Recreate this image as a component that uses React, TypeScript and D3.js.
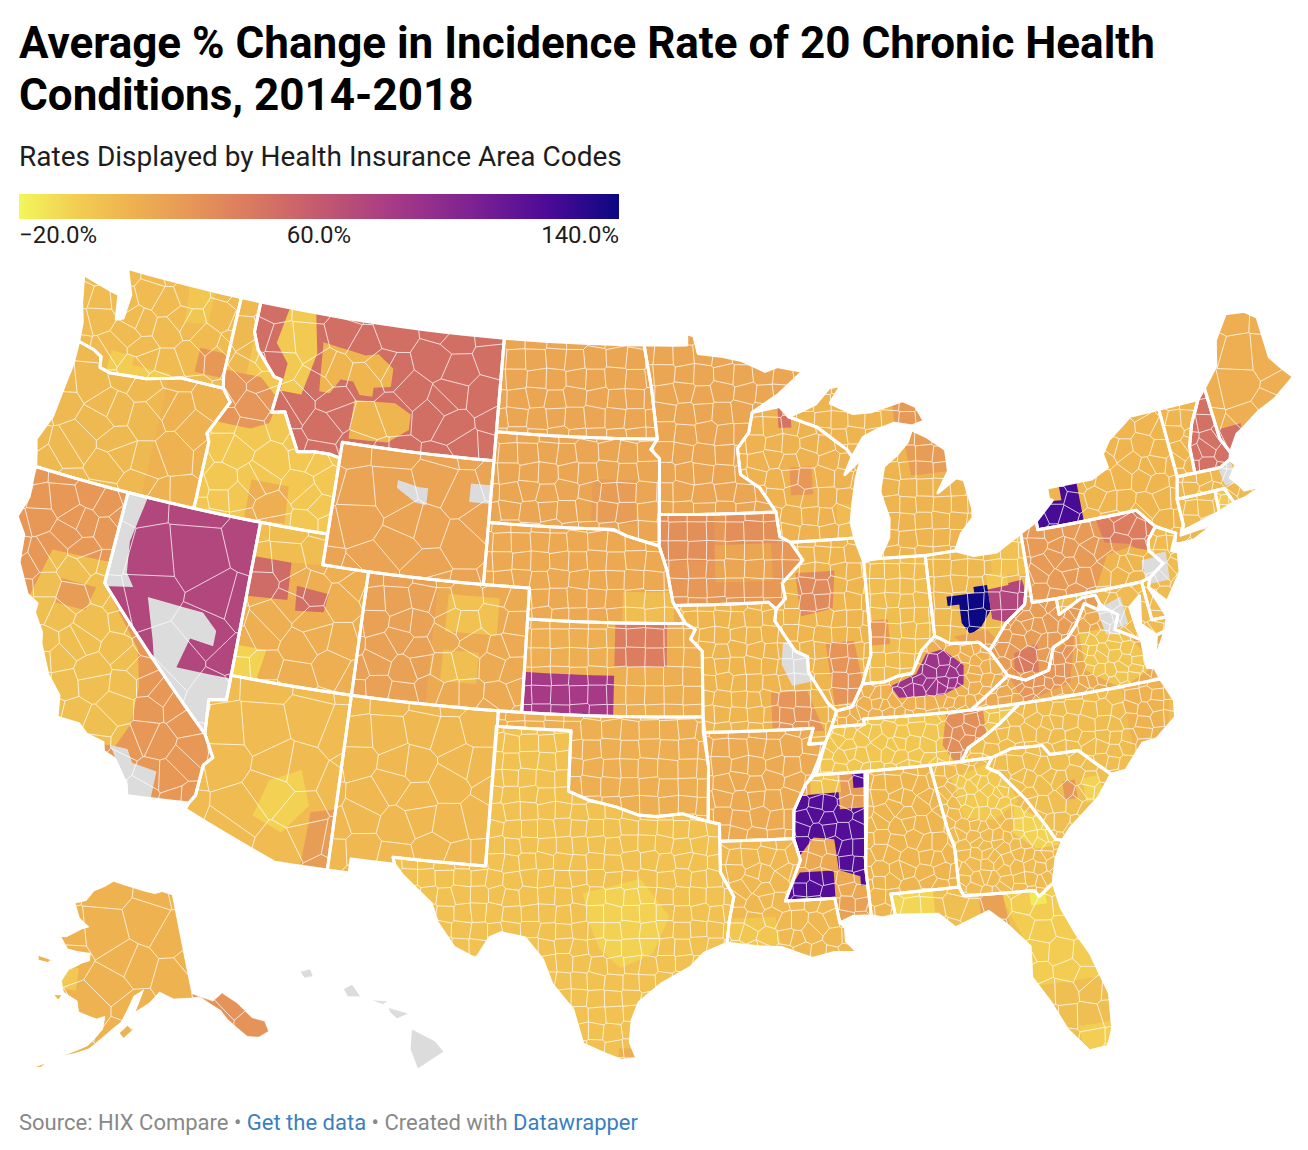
import * as d3 from 'd3';

type Pt = [number, number];

const WIDTH = 1308;
const HEIGHT = 1150;
const NO_DATA = '#dcdcdc';

// legend
const legendTicks = ['−20.0%', '60.0%', '140.0%'];
const colorDomain = [-20, -5, 10, 25, 40, 60, 80, 100, 120, 140];
const colorRange = ['#f1f75c', '#f3ce52', '#eeb250', '#e79857', '#dc7d5f', '#c45a6f', '#a63a86', '#7f2392', '#4f0b97', '#0c0782'];

// state outlines in lon/lat, estimated
const stateRings: Record<string, Pt[][]> = {
  WA: [[[-124.7, 48.4], [-123.2, 48.15], [-122.8, 48.1], [-122.6, 47.3], [-122.3, 47.4], [-122.25, 48.2], [-122.75, 49], [-117.03, 49], [-117.04, 46.42], [-116.92, 45.99], [-118.98, 46], [-119.3, 45.93], [-120.5, 45.7], [-121.2, 45.65], [-122.2, 45.57], [-122.7, 45.65], [-122.8, 46], [-123.2, 46.15], [-124, 46.27], [-124.1, 46.9], [-124.4, 47.5]]],
  OR: [[[-124, 46.27], [-123.2, 46.15], [-122.8, 46], [-122.7, 45.65], [-122.2, 45.57], [-121.2, 45.65], [-120.5, 45.7], [-119.3, 45.93], [-118.98, 46], [-116.92, 45.99], [-116.47, 45.6], [-116.85, 45], [-117.2, 44.45], [-117.03, 44.2], [-117.03, 42], [-124.21, 42], [-124.4, 42.5], [-124.55, 42.85], [-124.15, 43.7], [-124.05, 44.7], [-123.95, 45.5]]],
  CA: [[[-124.21, 42], [-120, 42], [-120, 39], [-114.63, 35], [-114.14, 34.3], [-114.45, 34], [-114.52, 33], [-114.72, 32.72], [-117.12, 32.53], [-117.25, 32.9], [-117.9, 33.6], [-118.4, 33.75], [-118.5, 34.03], [-119.2, 34.15], [-119.6, 34.42], [-120.5, 34.45], [-120.65, 35.15], [-121.3, 35.7], [-121.9, 36.6], [-122, 36.95], [-122.5, 37.5], [-122.5, 37.8], [-123, 38], [-123.7, 38.9], [-123.85, 39.8], [-124.35, 40.3], [-124.1, 41], [-124.2, 41.75]]],
  NV: [[[-120, 42], [-114.04, 42], [-114.04, 36.2], [-114.74, 36.1], [-114.63, 35], [-120, 39]]],
  ID: [[[-117.03, 49], [-116.05, 49], [-116.05, 48], [-115.7, 47.45], [-114.7, 46.7], [-114.35, 46.65], [-114.5, 45.55], [-113.9, 45.65], [-113.45, 45.05], [-113, 44.45], [-112.3, 44.55], [-111.5, 44.55], [-111.05, 44.48], [-111.05, 42], [-117.03, 42], [-117.03, 44.2], [-117.2, 44.45], [-116.85, 45], [-116.47, 45.6], [-116.92, 45.99], [-117.04, 46.42]]],
  MT: [[[-116.05, 49], [-104.05, 49], [-104.05, 45], [-111.05, 45], [-111.05, 44.48], [-111.5, 44.55], [-112.3, 44.55], [-113, 44.45], [-113.45, 45.05], [-113.9, 45.65], [-114.5, 45.55], [-114.35, 46.65], [-114.7, 46.7], [-115.7, 47.45], [-116.05, 48]]],
  WY: [[[-111.05, 45], [-104.05, 45], [-104.05, 41], [-111.05, 41]]],
  UT: [[[-114.04, 42], [-111.05, 42], [-111.05, 41], [-109.05, 41], [-109.05, 37], [-114.04, 37]]],
  CO: [[[-109.05, 41], [-102.05, 41], [-102.05, 37], [-109.05, 37]]],
  AZ: [[[-114.04, 37], [-109.05, 37], [-109.05, 31.33], [-111.07, 31.33], [-114.81, 32.5], [-114.72, 32.72], [-114.52, 33], [-114.45, 34], [-114.14, 34.3], [-114.63, 35], [-114.74, 36.1], [-114.04, 36.2]]],
  NM: [[[-109.05, 37], [-103, 37], [-103.06, 32], [-106.62, 32], [-106.53, 31.78], [-108.21, 31.78], [-108.21, 31.33], [-109.05, 31.33]]],
  ND: [[[-104.05, 49], [-97.23, 49], [-96.85, 47.6], [-96.56, 45.94], [-104.05, 45.94]]],
  SD: [[[-104.05, 45.94], [-96.56, 45.94], [-96.85, 45.6], [-96.45, 45.3], [-96.45, 43.5], [-96.45, 42.49], [-97.9, 42.8], [-98.5, 43], [-104.05, 43]]],
  NE: [[[-104.05, 43], [-98.5, 43], [-97.9, 42.8], [-96.45, 42.49], [-96.1, 41.7], [-95.85, 40.7], [-95.31, 40], [-102.05, 40], [-102.05, 41], [-104.05, 41]]],
  KS: [[[-102.05, 40], [-95.31, 40], [-94.9, 39.8], [-95.1, 39.5], [-94.61, 39.1], [-94.62, 37], [-102.04, 37]]],
  OK: [[[-103, 37], [-94.62, 37], [-94.43, 35.4], [-94.48, 33.64], [-95.5, 33.9], [-96.5, 33.8], [-97.2, 33.85], [-98.1, 34.1], [-99.2, 34.3], [-100, 34.56], [-100, 36.5], [-103, 36.5]]],
  TX: [[[-106.62, 32], [-103.06, 32], [-103.04, 36.5], [-100, 36.5], [-100, 34.56], [-99.2, 34.3], [-98.1, 34.1], [-97.2, 33.85], [-96.5, 33.8], [-95.5, 33.9], [-94.48, 33.64], [-94.04, 33.55], [-94.04, 32], [-93.55, 31.2], [-93.75, 30.4], [-93.85, 29.7], [-94.7, 29.4], [-95.2, 28.95], [-96.3, 28.4], [-97.1, 27.8], [-97.35, 27.2], [-97.4, 26.5], [-97.15, 25.96], [-97.7, 25.9], [-98.3, 26.1], [-99.1, 26.4], [-99.5, 27.5], [-100.3, 28.3], [-100.7, 29.1], [-101.4, 29.77], [-102.3, 29.88], [-102.7, 29.7], [-103.15, 28.98], [-104, 29.3], [-104.7, 30.05], [-105, 30.65], [-106.2, 31.47], [-106.53, 31.78]]],
  MN: [[[-97.23, 49], [-95.15, 49], [-95.15, 49.38], [-94.8, 49.3], [-94.6, 48.72], [-93.4, 48.6], [-92.5, 48.45], [-91.4, 48.07], [-90.8, 48.2], [-89.6, 48], [-90.8, 47.3], [-92.1, 46.75], [-92.3, 46.1], [-92.85, 45.6], [-92.75, 44.75], [-91.9, 44.3], [-91.22, 43.5], [-96.45, 43.5], [-96.45, 45.3], [-96.85, 45.6], [-96.56, 45.94], [-96.85, 47.6]]],
  IA: [[[-96.45, 43.5], [-91.22, 43.5], [-91.1, 42.7], [-90.65, 42.5], [-90.15, 41.9], [-91.1, 41.2], [-91, 40.7], [-91.42, 40.38], [-91.73, 40.61], [-95.77, 40.58], [-95.85, 40.7], [-96.1, 41.7], [-96.45, 42.49]]],
  MO: [[[-95.77, 40.58], [-91.73, 40.61], [-91.42, 40.38], [-91.5, 40], [-90.7, 39], [-90.2, 38.8], [-90.2, 38.3], [-89.5, 37.3], [-89.15, 37], [-89.4, 36.5], [-89.7, 36], [-90.37, 36], [-90.15, 36.5], [-94.62, 36.5], [-94.62, 39.1], [-95.1, 39.5], [-94.9, 39.8], [-95.31, 40]]],
  AR: [[[-94.62, 36.5], [-90.15, 36.5], [-90.37, 36], [-89.7, 36], [-90.1, 35.1], [-90.6, 34.7], [-91.1, 33.9], [-91.17, 33], [-94.04, 33], [-94.04, 33.55], [-94.48, 33.64], [-94.43, 35.4]]],
  LA: [[[-94.04, 33], [-91.17, 33], [-90.95, 32.3], [-91.6, 31], [-89.73, 31], [-89.6, 30.2], [-89.4, 30.05], [-89.4, 29.6], [-89, 29.2], [-89.9, 29.25], [-90.7, 29.1], [-91.8, 29.5], [-92.6, 29.55], [-93.85, 29.7], [-93.75, 30.4], [-93.55, 31.2], [-94.04, 32]]],
  MS: [[[-90.3, 35], [-88.2, 35], [-88.1, 34.9], [-88.47, 31.9], [-88.4, 30.35], [-89.1, 30.37], [-89.6, 30.2], [-89.73, 31], [-91.6, 31], [-90.95, 32.3], [-91.17, 33], [-91.1, 33.9], [-90.6, 34.7]]],
  AL: [[[-88.2, 35], [-85.6, 35], [-85.18, 32.87], [-85, 32.3], [-85, 31], [-87.6, 31], [-87.5, 30.3], [-88, 30.25], [-88.4, 30.35], [-88.47, 31.9]]],
  GA: [[[-85.6, 35], [-83.1, 35], [-83.35, 34.7], [-82.9, 34.47], [-82, 33.5], [-81.4, 32.6], [-81.1, 32.1], [-80.85, 32.03], [-81.2, 31.5], [-81.45, 30.72], [-82.05, 30.36], [-82.2, 30.57], [-84.86, 30.7], [-85, 31], [-85, 32.3], [-85.18, 32.87]]],
  FL: [[[-87.6, 31], [-85, 31], [-84.86, 30.7], [-82.2, 30.57], [-82.05, 30.36], [-81.45, 30.72], [-81.3, 29.9], [-80.9, 29], [-80.5, 28.3], [-80.05, 26.9], [-80.15, 25.75], [-80.4, 25.2], [-81.1, 25.15], [-81.75, 25.95], [-82.2, 26.9], [-82.75, 27.8], [-82.65, 28.8], [-83.4, 29.6], [-84, 30.1], [-85.3, 29.7], [-85.9, 30.2], [-87.5, 30.3]]],
  SC: [[[-83.35, 34.7], [-83.1, 35], [-82.3, 35.2], [-81.05, 35.15], [-80.8, 34.82], [-79.67, 34.8], [-78.55, 33.86], [-79.2, 33.2], [-80.45, 32.4], [-80.85, 32.03], [-81.1, 32.1], [-81.4, 32.6], [-82, 33.5], [-82.9, 34.47]]],
  NC: [[[-84.32, 35], [-84, 35.4], [-83.2, 35.75], [-82.6, 36.05], [-81.68, 36.59], [-75.87, 36.55], [-75.5, 35.8], [-75.6, 35.25], [-76.5, 34.7], [-77.1, 34.65], [-77.95, 33.9], [-78.55, 33.86], [-79.67, 34.8], [-80.8, 34.82], [-81.05, 35.15], [-82.3, 35.2], [-83.1, 35]]],
  TN: [[[-90.3, 35], [-89.7, 36], [-89.4, 36.5], [-88.07, 36.5], [-88.07, 36.68], [-83.68, 36.6], [-81.68, 36.59], [-82.6, 36.05], [-83.2, 35.75], [-84, 35.4], [-84.32, 35], [-85.6, 35], [-88.2, 35]]],
  KY: [[[-89.4, 36.5], [-89.15, 37], [-88.5, 37.1], [-88, 37.8], [-87.1, 37.8], [-86.5, 37.95], [-85.9, 38], [-85.4, 38.7], [-84.8, 39.1], [-84.2, 38.8], [-83, 38.72], [-82.6, 38.4], [-82, 37.53], [-83.68, 36.6], [-88.07, 36.68], [-88.07, 36.5]]],
  VA: [[[-83.68, 36.6], [-82, 37.53], [-81.3, 37.3], [-80.3, 37.5], [-79.95, 38.2], [-79.3, 38.42], [-78.87, 38.77], [-78.35, 39.4], [-77.83, 39.13], [-77.5, 39.1], [-77.05, 38.85], [-77.3, 38.4], [-76.3, 37.9], [-76.3, 37], [-76, 36.93], [-75.87, 36.55], [-81.68, 36.59]], [[-75.65, 37.95], [-75.25, 38.03], [-75.95, 37.15]]],
  WV: [[[-82, 37.53], [-82.6, 38.4], [-81.75, 39.2], [-80.85, 39.7], [-80.52, 40.64], [-80.52, 39.72], [-79.48, 39.72], [-79.48, 39.2], [-78.4, 39.6], [-77.83, 39.6], [-77.72, 39.32], [-77.83, 39.13], [-78.35, 39.4], [-78.87, 38.77], [-79.3, 38.42], [-79.95, 38.2], [-80.3, 37.5], [-81.3, 37.3]]],
  MD: [[[-79.48, 39.72], [-75.79, 39.72], [-75.7, 38.46], [-75.05, 38.45], [-75.25, 38.03], [-75.65, 37.95], [-76.2, 38.4], [-76, 39.3], [-76.5, 39], [-76.4, 38.3], [-76.3, 37.9], [-77.3, 38.4], [-77.05, 38.85], [-77.5, 39.1], [-77.72, 39.32], [-77.83, 39.6], [-78.4, 39.6], [-79.48, 39.2]]],
  DE: [[[-75.79, 39.72], [-75.4, 39.8], [-75.55, 39.5], [-75.05, 38.45], [-75.7, 38.46]]],
  PA: [[[-80.52, 41.98], [-79.76, 42.27], [-79.76, 42], [-75.35, 42], [-74.7, 41.36], [-75.13, 40.98], [-75.2, 40.65], [-74.72, 40.15], [-75.4, 39.8], [-75.79, 39.72], [-80.52, 39.72]]],
  NJ: [[[-74.7, 41.36], [-73.9, 41], [-74.25, 40.48], [-73.98, 40.4], [-74.1, 39.75], [-74.9, 38.93], [-75.55, 39.5], [-75.4, 39.8], [-74.72, 40.15], [-75.2, 40.65], [-75.13, 40.98]]],
  NY: [[[-79.76, 42.27], [-79.76, 42], [-75.35, 42], [-74.7, 41.36], [-73.9, 41], [-74.05, 40.65], [-73.2, 40.65], [-72, 41.05], [-72.6, 40.98], [-73.7, 40.9], [-73.65, 41], [-73.5, 41.2], [-73.5, 42.05], [-73.26, 42.75], [-73.35, 45.01], [-74.7, 45], [-75.9, 44.4], [-76.3, 44], [-76.2, 43.55], [-77, 43.28], [-79.05, 43.27], [-79.05, 42.9], [-78.9, 42.85]]],
  OH: [[[-84.8, 41.7], [-83.45, 41.73], [-82.7, 41.5], [-81.7, 41.5], [-80.52, 41.98], [-80.52, 40.64], [-80.85, 39.7], [-81.75, 39.2], [-82.6, 38.4], [-83, 38.72], [-84.2, 38.8], [-84.8, 39.1]]],
  IN: [[[-87.5, 41.7], [-87.2, 41.75], [-86.8, 41.76], [-84.8, 41.7], [-84.8, 39.1], [-85.4, 38.7], [-85.9, 38], [-86.5, 37.95], [-87.1, 37.8], [-88, 37.8], [-87.55, 38.7], [-87.5, 39.35]]],
  IL: [[[-87.5, 41.7], [-87.8, 42.49], [-90.65, 42.5], [-90.15, 41.9], [-91.1, 41.2], [-91, 40.7], [-91.42, 40.38], [-91.5, 40], [-90.7, 39], [-90.2, 38.8], [-90.2, 38.3], [-89.5, 37.3], [-89.15, 37], [-88.5, 37.1], [-88, 37.8], [-87.55, 38.7], [-87.5, 39.35]]],
  WI: [[[-92.1, 46.75], [-90.8, 46.9], [-90.4, 46.55], [-89.1, 46.15], [-87.8, 45.35], [-87.6, 45.1], [-88, 44.55], [-87.4, 44.9], [-87.05, 45.25], [-87.5, 44.4], [-87.75, 43.6], [-87.9, 43], [-87.8, 42.49], [-90.65, 42.5], [-91.1, 42.7], [-91.22, 43.5], [-91.9, 44.3], [-92.75, 44.75], [-92.85, 45.6], [-92.3, 46.1]]],
  MI: [[[-86.8, 41.76], [-84.8, 41.7], [-83.45, 41.73], [-83.1, 42.25], [-82.5, 42.7], [-82.45, 43], [-82.65, 43.95], [-83, 44.05], [-83.9, 43.65], [-83.3, 44.3], [-83.3, 45], [-84.1, 45.5], [-84.75, 45.78], [-85, 45.4], [-85.6, 45], [-86.2, 44.7], [-86.5, 43.9], [-86.2, 43], [-86.3, 42.4]], [[-90.4, 46.55], [-89.1, 46.9], [-88.4, 47.4], [-87.8, 47.45], [-88.4, 46.9], [-87.4, 46.5], [-86.5, 46.5], [-85, 46.75], [-84.4, 46.5], [-84.1, 46], [-84.7, 45.9], [-85.5, 46.05], [-86.3, 45.9], [-87, 45.7], [-87.6, 45.1], [-87.8, 45.35], [-89.1, 46.15]]],
  ME: [[[-70.7, 43.08], [-71, 43.6], [-71.08, 45.3], [-70.3, 45.9], [-70, 46.7], [-69.2, 47.45], [-68.3, 47.35], [-67.8, 47.05], [-67.8, 45.7], [-67.45, 45.3], [-67, 44.85], [-68.1, 44.35], [-69, 44.1], [-69.8, 43.75], [-70.2, 43.6]]],
  NH: [[[-71.08, 45.3], [-71.5, 45], [-72.05, 44.3], [-72.4, 43.6], [-72.46, 42.73], [-71.3, 42.7], [-70.8, 42.87], [-70.7, 43.08], [-71, 43.6]]],
  VT: [[[-73.35, 45.01], [-71.5, 45], [-72.05, 44.3], [-72.4, 43.6], [-72.46, 42.73], [-73.26, 42.75]]],
  MA: [[[-73.5, 42.05], [-73.26, 42.75], [-72.46, 42.73], [-71.3, 42.7], [-70.8, 42.87], [-70.6, 42.65], [-71, 42.3], [-70.65, 41.95], [-70.55, 41.8], [-70.05, 41.78], [-70.05, 42.05], [-69.95, 41.7], [-70.6, 41.55], [-71.12, 41.5], [-71.38, 42.02], [-71.8, 42.02]]],
  RI: [[[-71.8, 42.02], [-71.38, 42.02], [-71.12, 41.5], [-71.85, 41.32]]],
  CT: [[[-73.5, 42.05], [-71.8, 42.02], [-71.85, 41.32], [-73.65, 41], [-73.5, 41.2]]],
  AK: [
    [[-141, 69.65], [-143.5, 70.1], [-145.5, 70], [-148.5, 70.4], [-152, 70.85], [-156.6, 71.35], [-159, 70.8], [-161.8, 70.3], [-163.5, 69.3], [-166.2, 68.9], [-164.5, 67.6], [-162, 66.9], [-163.7, 66.6], [-166.8, 65.65], [-168, 65.6], [-166, 64.6], [-164, 64.5], [-161, 64.5], [-161, 63.8], [-162.5, 63.5], [-165, 62.7], [-166, 61.6], [-165.3, 60.6], [-162.5, 59.98], [-162, 59], [-158.7, 58.5], [-157.2, 58.8], [-157.5, 57.6], [-159.8, 56], [-163, 55], [-164.8, 54.6], [-162, 55.1], [-159.6, 55.7], [-157.5, 56.8], [-155.9, 57.6], [-154.3, 58.3], [-153.3, 59.3], [-151.9, 60.7], [-150, 61.2], [-151.8, 59.2], [-149, 60], [-147, 60.9], [-144.5, 60.1], [-141, 59.9]],
    [[-141, 60.3], [-137.5, 59.2], [-135.5, 59.7], [-133.4, 58.4], [-131.8, 56.7], [-130, 56], [-130, 55], [-131.8, 54.8], [-133.5, 55.2], [-135.8, 57.2], [-136.6, 58.2], [-139.5, 59.8], [-141, 59.95]],
    [[-171.7, 63.4], [-168.7, 63.3], [-169.5, 63], [-171.5, 63]],
    [[-167, 60.2], [-165.5, 60.3], [-166, 59.8]],
    [[-153.2, 58], [-152.2, 57.6], [-153.9, 56.8], [-154.6, 57.3]],
    [[-167.8, 53.3], [-166, 53.9], [-166.8, 53.4]],
  ],
  HI: [
    [[-155.9, 20.25], [-155.1, 19.85], [-154.8, 19.5], [-155.7, 18.95], [-155.95, 19.6]],
    [[-156.7, 20.95], [-156, 20.75], [-156.4, 20.58], [-156.65, 20.8]],
    [[-158.25, 21.55], [-157.95, 21.7], [-157.65, 21.3], [-158.1, 21.3]],
    [[-159.75, 22.1], [-159.4, 22.2], [-159.3, 21.95], [-159.6, 21.9]],
    [[-157.3, 21.2], [-156.7, 21.15], [-156.9, 21.05]],
  ],
};

const stateNames = Object.keys(stateRings);

// base value of each state, in stateNames order (null is no data)
const stateValues: (number | null)[] = [5, 6, 25, 72, -2, 48, 18, 12, 14, 5, 7, 17, 17, 15, 12, 12, 2, 17, 25, 8, 14, 7, 15, 8, 5, 3, 3, 4, -1, 11, 14, 22, 5, 5, 23, 5, 8, 6, 4, 8, 10, 9, 12, 47, 8, 6, -3, 5, 10, null];

// county size in px and how far the county lines wander from a plain grid, stateNames order
const countySizes = [24, 30, 25, 50, 26, 30, 38, 30, 24, 42, 32, 20, 20, 19, 19, 19, 17, 20, 19, 16, 18, 16, 15, 15, 11, 22, 15, 14, 13, 11, 11, 13, 15, 20, 17, 14, 18, 17, 15, 16, 18, 17, 35, 16, 16, 14, 10, 15, 38, 0];
const countyWander = [0.45, 0.45, 0.45, 0.4, 0.45, 0.45, 0.4, 0.4, 0.3, 0.35, 0.3, 0.12, 0.15, 0.1, 0.05, 0.1, 0.15, 0.15, 0.05, 0.15, 0.2, 0.35, 0.25, 0.35, 0.4, 0.35, 0.4, 0.3, 0.35, 0.4, 0.4, 0.4, 0.4, 0.4, 0.35, 0.4, 0.35, 0.1, 0.1, 0.15, 0.2, 0.1, 0.4, 0.35, 0.35, 0.35, 0.3, 0.3, 0.45, 0];

// rating areas that differ from the state value, clipped to their state
const areaStates = [
  'MT', 'MT', 'MT', 'ID', 'ID', 'ID', 'WA', 'WA', 'WA', 'OR', 'CA', 'CA', 'CA', 'CA', 'NV', 'NV', 'UT', 'UT', 'UT', 'UT', 'AZ', 'AZ', 'WY', 'WY', 'CO', 'CO', 'CO', 'TX', 'TX', 'LA',
  'MS', 'MS', 'MS', 'MS', 'MS', 'MS', 'MS', 'KY', 'OH', 'OH', 'OH', 'OH', 'OH', 'NY', 'PA', 'PA', 'VA', 'VA', 'WV', 'NC', 'SC', 'SC', 'TN', 'GA', 'GA', 'FL', 'FL', 'FL', 'FL', 'FL',
  'IL', 'IL', 'IA', 'IA', 'IA', 'WI', 'WI', 'WI', 'MI', 'MI', 'MO', 'MO', 'KS', 'KS', 'NE', 'SD', 'IN', 'ME', 'RI', 'PA', 'NJ', 'MD', 'VA', 'MA', 'AK', 'AK',
];
const areaValues: (number | null)[] = [
  -3, 8, 8, 26, 12, 6, -1, 25, -4, 10, 3, 22, 25, null, null, null, 4, 50, 48, -7, -6, 22, null, null, 20, 2, 3, -6, 12, -1,
  0, 22, 20, 118, 15, 118, 118, 85, 140, 72, -2, 20, 2, 122, 40, 8, 0, 26, 42, 10, -7, 25, 30, -3, -7, -8, -4, -15, -5, 20,
  33, 27, 30, 30, 17, 25, 45, 5, 22, 24, 26, null, 80, 40, 4, 22, 25, 48, -3, null, null, null, null, null, -2, 28,
];
const areaRings: Pt[][] = [
  [[-114.6, 49], [-113.3, 49], [-112.9, 47.7], [-113.1, 47], [-113.3, 46.3], [-114.3, 46.3], [-114.2, 47.2], [-114.9, 47.8]],
  [[-112.7, 48.1], [-110.6, 47.9], [-110, 48], [-109.2, 47.6], [-109.2, 47], [-110, 46.9], [-110, 46.6], [-110.6, 46.6], [-111, 47], [-111.6, 47], [-112, 46.5], [-112.5, 46.5]],
  [[-110.8, 46.4], [-108.9, 46.5], [-108.1, 46.2], [-108.1, 45.7], [-109, 45.2], [-110.8, 45.15]],
  [[-117.1, 46.6], [-115.3, 46.6], [-114.3, 46], [-114.5, 45.2], [-115.3, 44.9], [-116.9, 44.9]],
  [[-114.8, 43.3], [-113.1, 43.3], [-113, 42.1], [-114.8, 42]],
  [[-117.1, 49], [-116, 49], [-116, 46.6], [-117.1, 46.6]],
  [[-119.6, 49], [-118.3, 49], [-118.3, 47.9], [-119.4, 47.8]],
  [[-118.4, 47.1], [-117.05, 47.1], [-117.05, 46.3], [-118.4, 46.3]],
  [[-122.4, 45.5], [-122.4, 46.3], [-121.3, 46.3], [-121.3, 46], [-119.5, 46.05], [-119.5, 45.7]],
  [[-119.5, 46], [-116.5, 46], [-117, 42], [-119.4, 42]],
  [[-122.5, 39.6], [-120, 39.7], [-120, 39], [-118, 37.2], [-117.6, 36], [-117.6, 34.8], [-118, 34], [-119.5, 33.9], [-120.8, 34.2], [-122.3, 36], [-123, 37.5]],
  [[-121.8, 38.8], [-120.3, 38.8], [-120.5, 38], [-121.8, 38]],
  [[-117.6, 36], [-115, 36], [-114.3, 34.4], [-114.6, 33.8], [-115.8, 33.9], [-117.6, 34.8]],
  [[-118.2, 34], [-117.5, 34], [-117.2, 33.6], [-116.2, 33.5], [-116.2, 32.5], [-117.5, 32.5], [-117.6, 33.3]],
  [[-120, 42], [-119.1, 42], [-119.4, 40.5], [-119.2, 39.5], [-118.8, 39.1], [-120, 38.9]],
  [[-118.1, 38.9], [-115.7, 38.8], [-115, 38.3], [-115, 37.8], [-116, 37.9], [-116.3, 36.9], [-114.04, 36.9], [-114.04, 36.2], [-114.74, 36.1], [-114.63, 35], [-116.5, 36.1], [-117.2, 36.8], [-117.5, 37.6]],
  [[-114.1, 42.1], [-111, 42.1], [-111, 41], [-114.1, 40.8]],
  [[-114.1, 40.9], [-112.4, 40.9], [-112.3, 39.7], [-114.1, 39.6]],
  [[-112, 40.2], [-110.6, 40.1], [-110.7, 39.5], [-111.9, 39.4]],
  [[-114.1, 38], [-112.8, 38], [-113, 37], [-114.1, 37]],
  [[-111.8, 33.9], [-110.6, 34.4], [-110.1, 33.3], [-111, 32.3], [-112.2, 32.7]],
  [[-110, 33.1], [-109.05, 33.3], [-109.05, 31.3], [-110.1, 31.3]],
  [[-108.3, 44.05], [-107.3, 43.9], [-106.9, 43.9], [-106.9, 43.35], [-107.4, 43.4], [-108.3, 43.8]],
  [[-105, 44.2], [-104, 44.2], [-104, 43.6], [-105, 43.6]],
  [[-109.05, 41], [-106, 41], [-106, 37], [-109.05, 37]],
  [[-105.5, 40.6], [-103.3, 40.6], [-103.3, 39.4], [-105.5, 39.4]],
  [[-105.5, 38.8], [-104, 38.8], [-104, 37.8], [-105.5, 37.8]],
  [[-99.3, 31.3], [-97.1, 31.8], [-96, 30.6], [-96.6, 29.4], [-97.8, 28.9], [-98.6, 29.5], [-99, 30.3]],
  [[-97.8, 26.3], [-97, 26.3], [-97, 25.8], [-97.8, 25.8]],
  [[-93.8, 30.5], [-92, 30.5], [-91.8, 29.5], [-93.8, 29.6]],
  [[-90.4, 35], [-89.2, 35], [-89.2, 34.4], [-90.4, 34.4]],
  [[-89.2, 35], [-88, 35], [-88, 33.9], [-89.2, 33.9]],
  [[-89.8, 31], [-88, 31], [-88, 30], [-89.8, 30]],
  [[-91.3, 34.35], [-89.3, 34.4], [-89.3, 33.85], [-88, 33.85], [-88, 31.35], [-88.7, 31.35], [-88.7, 31.65], [-89.5, 31.9], [-89.6, 32.9], [-90.4, 33], [-91.3, 32.1]],
  [[-90.8, 32.45], [-90.1, 32.95], [-89.75, 32.9], [-89.65, 31.95], [-90.9, 31.95]],
  [[-91.7, 31], [-91, 31.9], [-89.7, 31.9], [-89.7, 31]],
  [[-88.7, 35], [-88, 35], [-88, 34.5], [-88.7, 34.5]],
  [[-86.85, 37.65], [-85.75, 37.95], [-85.25, 38.55], [-84.55, 38.65], [-83.75, 38.05], [-83.85, 37.45], [-84.75, 37.2], [-86.55, 37.25]],
  [[-84.1, 40.3], [-82.9, 40.3], [-82.9, 40.5], [-82.3, 40.5], [-82.3, 39.7], [-82.8, 39.2], [-83.3, 39], [-83.6, 39.4], [-83.6, 40], [-84.1, 40]],
  [[-82.3, 40.4], [-80.8, 40.5], [-80.6, 39.7], [-81.6, 39.2], [-82.3, 39.4]],
  [[-82.3, 40.85], [-81.4, 40.85], [-81.4, 40.4], [-82.3, 40.35]],
  [[-84, 39], [-82.6, 39.1], [-82, 38.5], [-83.5, 38.6]],
  [[-82, 41.6], [-80.4, 42], [-80.4, 40.6], [-82, 40.85]],
  [[-79.9, 42], [-77.7, 42], [-77.7, 43.4], [-78.5, 43.4], [-78.5, 42.8], [-79.9, 42.9]],
  [[-77.2, 42.1], [-75.2, 42.1], [-74.6, 41.3], [-75.4, 40.6], [-76, 41], [-77, 41.2]],
  [[-77.8, 39.7], [-75, 39.7], [-75, 40.6], [-76, 40.9], [-77, 40.8]],
  [[-78.8, 38.5], [-77, 38.5], [-76, 37], [-77.5, 36.5], [-78.8, 37.3]],
  [[-82, 37.6], [-80, 38], [-79, 38.5], [-79.5, 37], [-81.5, 36.6]],
  [[-81.6, 38.2], [-80.6, 38.4], [-80.7, 37.5], [-81.7, 37.6]],
  [[-77.5, 36.6], [-75.5, 36.6], [-76, 34.8], [-77.5, 34.5]],
  [[-79.7, 33.9], [-79.1, 33.9], [-78.9, 33.2], [-79.7, 33.1]],
  [[-80.5, 33.9], [-80, 33.9], [-80, 33.3], [-80.5, 33.3]],
  [[-84.7, 36.6], [-83.2, 36.6], [-83.2, 35.4], [-84.6, 35], [-85, 35.6]],
  [[-84.8, 34.5], [-83, 34.9], [-82.3, 33.5], [-83.3, 33], [-84.5, 33.2]],
  [[-82.5, 33.4], [-81.3, 32.7], [-81, 31.9], [-81.9, 31.9], [-82.7, 32.5]],
  [[-87.6, 31], [-86, 31], [-86, 30.2], [-87.6, 30.2]],
  [[-83.5, 30.6], [-81.3, 30.8], [-80, 27.5], [-82.9, 27.5], [-82.9, 29.2]],
  [[-82.4, 30.6], [-81.8, 30.6], [-81.8, 30.1], [-82.4, 30.1]],
  [[-81.3, 26], [-80, 26], [-80, 25], [-81.3, 25]],
  [[-84.3, 30.8], [-83.4, 30.6], [-83.3, 29.6], [-84.3, 30]],
  [[-90.5, 41.5], [-88.8, 41.5], [-89, 40.3], [-90.4, 40.1]],
  [[-89.4, 39.2], [-88.2, 39.2], [-87.9, 37.3], [-89.2, 37.2]],
  [[-96.5, 43.5], [-94, 43.5], [-94, 42], [-96.5, 42]],
  [[-93.5, 43.5], [-91.2, 43.5], [-91.2, 42.5], [-93.5, 42.5]],
  [[-94, 42.5], [-91.5, 42.5], [-91.5, 41.3], [-94, 41.3]],
  [[-90.5, 44.9], [-89.5, 44.9], [-89.5, 44], [-90.5, 44]],
  [[-90.9, 46.9], [-90.3, 46.9], [-90.3, 46.2], [-90.9, 46.2]],
  [[-88.5, 43.6], [-87.8, 43.6], [-87.8, 42.5], [-88.5, 42.5]],
  [[-85.2, 45.8], [-83.5, 45.8], [-83.3, 44.3], [-85, 44.3]],
  [[-85.5, 47], [-84, 47], [-84, 45.9], [-85.5, 45.9]],
  [[-91.8, 37.7], [-90.3, 37.7], [-89.7, 36.4], [-91.8, 36.4]],
  [[-91.2, 39.3], [-90.2, 39.3], [-90.1, 38], [-90.9, 37.9], [-91.3, 38.6]],
  [[-102.1, 38.3], [-98.3, 38.3], [-98.3, 37], [-102.1, 37]],
  [[-98.3, 40], [-96.1, 40], [-96.1, 38.6], [-98.3, 38.6]],
  [[-98, 41], [-95.8, 41], [-95.8, 40], [-98, 40]],
  [[-99.5, 44.6], [-97.5, 44.6], [-97.5, 43.2], [-99.5, 43.2]],
  [[-87.6, 39.8], [-86.7, 39.8], [-86.7, 39], [-87.6, 39]],
  [[-71.1, 43.9], [-69.9, 43.9], [-70.1, 43.4], [-70.6, 43], [-71.1, 43]],
  [[-71.9, 41.9], [-71.1, 41.9], [-71.1, 41.3], [-71.9, 41.3]],
  [[-75.6, 40.4], [-74.7, 40.4], [-74.7, 39.7], [-75.6, 39.7]],
  [[-75.4, 40.5], [-74.5, 40.5], [-74.6, 39.6], [-75.5, 39.6]],
  [[-77.6, 39.2], [-76.8, 39.4], [-76.7, 38.5], [-77.4, 38.4]],
  [[-77.9, 39.2], [-77, 38.9], [-77, 38.2], [-77.7, 38.3]],
  [[-71.4, 42.6], [-70.8, 42.8], [-70.7, 42.1], [-71.3, 42.1]],
  [[-166.5, 63], [-163, 63], [-163, 60.9], [-166.5, 60.9]],
  [[-141, 61], [-129, 61], [-129, 54], [-141, 54]],
];

const projection = d3.geoAlbersUsa().scale(1770).translate([655, 664]);
const lineGen = d3.line<Pt>();

const color = d3.scaleLinear<string>().domain(colorDomain).range(colorRange).interpolate(d3.interpolateRgb);
const fillOf = (v: number | null) => (v === null ? NO_DATA : color(v));
const legendX = d3.scaleLinear().domain([-20, 140]).range([19, 619]);

// break long edges so that parallels follow the conic curve
function densify(ring: Pt[]) {
  const out: Pt[] = [];
  ring.forEach((a, i) => {
    const b = ring[(i + 1) % ring.length];
    const steps = Math.max(1, Math.ceil(Math.max(Math.abs(b[0] - a[0]), Math.abs(b[1] - a[1]))));
    for (let k = 0; k < steps; k++) {
      const t = k / steps;
      out.push([a[0] + (b[0] - a[0]) * t, a[1] + (b[1] - a[1]) * t]);
    }
  });
  return out;
}

function projected(line: Pt[]) {
  return line.map((p) => projection(p)).filter(Boolean) as Pt[];
}

function ringPath(ring: Pt[]) {
  return lineGen(projected(densify(ring))) + 'Z';
}

// the real county borders are not available offline, so this only gives the
// texture: cells of about the right size, not the true county shapes
function countyMesh(rings: Pt[][], size: number, wander: number) {
  const pts = rings.flatMap((r) => projected(r));
  const [x0, x1] = d3.extent(pts, (p) => p[0]) as [number, number];
  const [y0, y1] = d3.extent(pts, (p) => p[1]) as [number, number];
  const hash = (a: number, b: number) => {
    const s = Math.sin(a * 12.9898 + b * 78.233) * 43758.5453;
    return s - Math.floor(s) - 0.5;
  };
  const seeds: Pt[] = [];
  d3.range(y0 - size, y1 + size, size).forEach((y, r) => {
    d3.range(x0 - size, x1 + size, size).forEach((x, c) => {
      seeds.push([x + hash(r, c) * wander * 2 * size, y + hash(c + 7, r + 3) * wander * 2 * size]);
    });
  });
  return d3.Delaunay.from(seeds).voronoi([x0 - 1, y0 - 1, x1 + 1, y1 + 1]).render();
}

export default function App() {
  return (
    <svg width={WIDTH} height={HEIGHT} style={{ position: 'absolute', left: 0, top: 0, fontFamily: 'Roboto, sans-serif' }}>
      <defs>
        <linearGradient id="legend-grad" x1="0" x2="1" y1="0" y2="0">
          {colorDomain.map((v, i) => (
            <stop key={v} offset={(v + 20) / 160} stopColor={colorRange[i]} />
          ))}
        </linearGradient>
        {stateNames.map((name) => (
          <clipPath key={name} id={`clip-${name}`}>
            <path d={stateRings[name].map(ringPath).join('')} />
          </clipPath>
        ))}
      </defs>

      <text x={19} y={58} fontSize={44} fontWeight={700} fill="#000">Average % Change in Incidence Rate of 20 Chronic Health</text>
      <text x={19} y={110} fontSize={44} fontWeight={700} fill="#000">Conditions, 2014-2018</text>
      <text x={19} y={166} fontSize={28} fill="#1d1d1d">Rates Displayed by Health Insurance Area Codes</text>

      <rect x={legendX(-20)} y={194} width={legendX(140) - legendX(-20)} height={25} fill="url(#legend-grad)" />
      <text x={legendX(-20)} y={243} fontSize={24} fill="#1d1d1d">{legendTicks[0]}</text>
      <text x={legendX(60)} y={243} fontSize={24} fill="#1d1d1d" textAnchor="middle">{legendTicks[1]}</text>
      <text x={legendX(140)} y={243} fontSize={24} fill="#1d1d1d" textAnchor="end">{legendTicks[2]}</text>

      {stateNames.map((name, i) => (
        <g key={name} clipPath={`url(#clip-${name})`}>
          <path d={stateRings[name].map(ringPath).join('')} fill={fillOf(stateValues[i])} />
          {areaRings.map((ring, k) =>
            areaStates[k] === name ? <path key={k} d={ringPath(ring)} fill={fillOf(areaValues[k])} /> : null
          )}
          {name !== 'HI' && <path d={countyMesh(stateRings[name], countySizes[i], countyWander[i])} fill="none" stroke="#fff" strokeWidth={0.9} strokeOpacity={0.85} />}
        </g>
      ))}
      {stateNames.map((name) => (
        <path key={name} d={stateRings[name].map(ringPath).join('')} fill="none" stroke="#fff" strokeWidth={name === 'AK' || name === 'HI' ? 0.5 : 3} strokeLinejoin="round" />
      ))}

      <text x={19} y={1130} fontSize={22} fill="#888">
        Source: HIX Compare •{' '}
        <tspan fill="#3a7fc1">Get the data</tspan>
        {' '}• Created with{' '}
        <tspan fill="#3a7fc1">Datawrapper</tspan>
      </text>
    </svg>
  );
}
